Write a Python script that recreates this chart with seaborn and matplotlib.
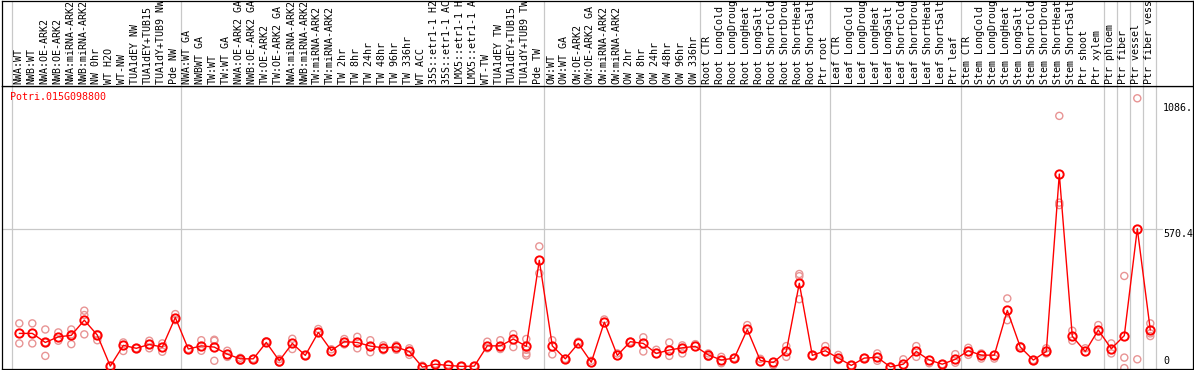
import numpy as np
import pandas as pd
import matplotlib
matplotlib.use("Agg")
import matplotlib.pyplot as plt
import seaborn as sns

gene = "Potri.015G098800"

labels = [
    "NWA:WT", "NWB:WT", "NWA:OE-ARK2", "NWB:OE-ARK2", "NWA:miRNA-ARK2", "NWB:miRNA-ARK2",
    "NW 0hr", "WT H2O", "WT-NW", "TUA1dEY NW", "TUA1dEY+TUB15", "TUA1dY+TUB9 NW", "Pde NW",
    "NWA:WT GA", "NWBWT GA", "TW:WT", "TW:WT GA", "NWA:OE-ARK2 GA", "NWB:OE-ARK2 GA",
    "TW:OE-ARK2", "TW:OE-ARK2 GA", "NWA:miRNA-ARK2", "NWB:miRNA-ARK2", "TW:miRNA-ARK2",
    "TW:miRNA-ARK2", "TW 2hr", "TW 8hr", "TW 24hr", "TW 48hr", "TW 96hr", "TW 336hr",
    "WT ACC", "35S::etr1-1 H2", "35S::etr1-1 AC", "LMX5::etr1-1 H", "LMX5::etr1-1 A",
    "WT-TW", "TUA1dEY TW", "TUA1dEY+TUB15", "TUA1dY+TUB9 TW", "Pde TW",
    "OW:WT", "OW:WT GA", "OW:OE-ARK2", "OW:OE-ARK2 GA", "OW:miRNA-ARK2", "OW:miRNA-ARK2",
    "OW 2hr", "OW 8hr", "OW 24hr", "OW 48hr", "OW 96hr", "OW 336hr",
    "Root CTR", "Root LongCold", "Root LongDroug", "Root LongHeat", "Root LongSalt",
    "Root ShortCold", "Root ShortDrou", "Root ShortHeat", "Root ShortSalt", "Ptr root",
    "Leaf CTR", "Leaf LongCold", "Leaf LongDroug", "Leaf LongHeat", "Leaf LongSalt",
    "Leaf ShortCold", "Leaf ShortDrou", "Leaf ShortHeat", "Leaf ShortSalt", "Ptr leaf",
    "Stem CTR", "Stem LongCold", "Stem LongDroug", "Stem LongHeat", "Stem LongSalt",
    "Stem ShortCold", "Stem ShortDrou", "Stem ShortHeat", "Stem ShortSalt", "Ptr shoot",
    "Ptr xylem", "Ptr phloem", "Ptr fiber", "Ptr vessel", "Ptr fiber vess",
]

means = [
    142, 142, 105, 128, 134, 196, 135, 8, 93, 81, 97, 86, 207,
    78, 91, 86, 57, 38, 38, 105, 30, 101, 52, 146, 72, 108, 105, 90, 83, 86, 68,
    4, 16, 11, 7, 8, 91, 91, 119, 89, 441,
    91, 38, 101, 24, 188, 52, 108, 101, 60, 74, 83, 89,
    54, 33, 41, 158, 31, 23, 68, 347, 52, 71,
    41, 11, 41, 44, 5, 16, 68, 33, 16, 36,
    71, 53, 53, 236, 86, 33, 68, 794, 130, 68, 156,
    79, 133, 570.4, 156,
]

replicates = [
    [183, 101], [183, 101], [158, 105, 50], [146, 112], [158, 138, 98], [235, 217, 138],
    [139, 114], [8], [105, 70], [81], [112, 81], [101, 67], [221, 196],
    [78], [114, 71], [112, 116, 30], [71, 46], [42, 30], [38], [110], [37, 22],
    [120, 78], [52], [160, 146], [77], [119, 97], [128, 81], [114, 65], [93, 73],
    [93, 75], [81, 54],
    [10], [18], [14], [7], [8], [108, 81], [114, 78], [139, 86], [119, 75, 60, 52],
    [498, 388],
    [114, 56], [38], [108], [30], [199], [60], [108], [126, 68], [75], [105, 50],
    [93, 60], [98],
    [60, 46], [46, 20], [41], [176], [38], [12], [90, 46], [385, 376, 282], [52], [90],
    [54, 33], [11], [41], [60, 30], [5], [36], [90, 46], [20], [16], [57, 22],
    [83, 54], [60, 39], [39], [285, 196], [90], [33], [81, 60], [1032, 677, 667],
    [153, 112], [81], [176, 128],
    [101, 60], [377, 43, 0], [1104, 36], [183, 142, 131],
]

group_starts = [0, 13, 41, 53, 63, 73, 84, 85, 86, 87]
ytick_vals = [0, 570.4, 1086]
ytick_text = ["0", "570.4", "1086."]

# ---- data frames ----
n = len(labels)
mean_df = pd.DataFrame({"idx": np.arange(n), "value": means})
rep_rows = [(i, v) for i, vals in enumerate(replicates) for v in vals]
rep_df = pd.DataFrame(rep_rows, columns=["idx", "value"])

sns.set_style("white")
plt.rcParams["font.family"] = ["DejaVu Sans Mono", "DejaVu Sans"]

W, H = 1194, 370
fig = plt.figure(figsize=(W / 100, H / 100), dpi=100)
fig.patch.set_facecolor("white")

left_px, right_px = 1.5, 1193.0
hdr_top, hdr_bot = 0.5, 85.5
plot_bot = 369.0

def px_to_x(p):
    return (p - 19.3) / 13.0

xlim = (px_to_x(left_px), px_to_x(right_px))
zero_px, scale = 368.1, 0.2444
ylim = (-(plot_bot - zero_px) / scale, (zero_px - hdr_bot) / scale)

ax = fig.add_axes([left_px / W, 1 - plot_bot / H, (right_px - left_px) / W, (plot_bot - hdr_bot) / H])
hax = fig.add_axes([left_px / W, 1 - hdr_bot / H, (right_px - left_px) / W, (hdr_bot - hdr_top) / H])

grid_c = "#c8c8c8"
line_pos = [g - 0.6 for g in group_starts] + [87.46]

for a in (ax, hax):
    a.set_xlim(*xlim)
    a.set_xticks([])
    a.set_yticks([])
    for s in a.spines.values():
        s.set_color("black")
        s.set_linewidth(0.9)
    for lp in line_pos:
        a.axvline(lp, color=grid_c, lw=0.9, zorder=0)

ax.set_ylim(*ylim)
hax.set_ylim(0, 1)

# horizontal gridline at middle tick
gx_end = (1162 - left_px) / (right_px - left_px)
ax.axhline(570.4, xmin=0, xmax=gx_end, color=grid_c, lw=0.9, zorder=0)

# replicates
sns.scatterplot(data=rep_df, x="idx", y="value", ax=ax, marker="o", s=26,
                facecolors="none", edgecolors="#e89494", linewidth=1.0, zorder=2,
                legend=False)
# means
sns.lineplot(data=mean_df, x="idx", y="value", ax=ax, color="red", linewidth=1.0,
             marker="o", markersize=6, markerfacecolor="none", markeredgecolor="red",
             markeredgewidth=1.4, zorder=3, legend=False)

ax.set_xlabel("")
ax.set_ylabel("")

fs = 7.2
# y tick labels on the right
tx = (1163 - left_px) / (right_px - left_px)
from matplotlib.transforms import blended_transform_factory, offset_copy
bt = blended_transform_factory(ax.transAxes, ax.transData)
for v, t in zip(ytick_vals, ytick_text):
    if v == 0:
        ax.text(tx, v, t, transform=offset_copy(bt, fig=fig, x=0, y=2, units="dots"),
                ha="left", va="bottom", fontsize=fs, color="black")
    else:
        ax.text(tx, v, t, transform=bt, ha="left", va="top", fontsize=fs, color="black")

# gene title
ax.text(10 / W, 1 - 96.7 / H, gene, transform=fig.transFigure, ha="left", va="center",
        fontsize=fs, color="red")

# header labels
yb = (hdr_bot - 84.0) / (hdr_bot - hdr_top)
for i, lab in enumerate(labels):
    hax.text(i - 0.08, yb, lab, rotation=90, ha="center", va="bottom", fontsize=fs,
             color="black")

fig.savefig("out.png", dpi=100, facecolor="white")
